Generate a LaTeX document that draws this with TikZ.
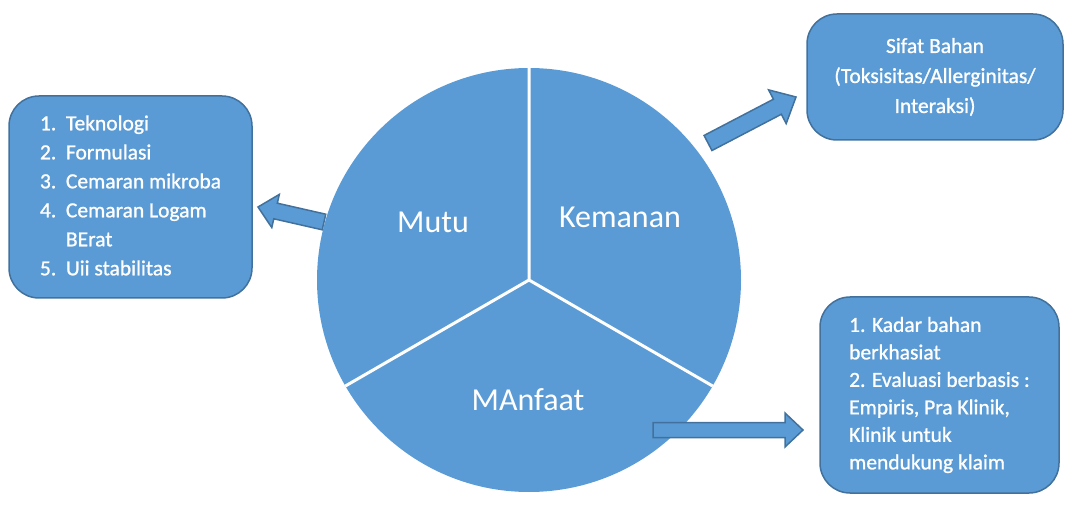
\documentclass[tikz,border=0pt]{standalone}
\usepackage{fontspec}
\setmainfont{Carlito}
\newfontfamily\boxfont[FakeBold=1]{Carlito}
\usetikzlibrary{calc}
\definecolor{fillblue}{HTML}{5B9BD5}
\definecolor{edgeblue}{HTML}{41719C}
\newcommand{\blockarr}[5]{%
  \coordinate (#1-base) at ($(#2)!#5!(#1)$);
  \draw[blockarrow] ($(#1)!#3!90:(#2)$) -- ($(#1-base)!#3!90:(#2)$) -- ($(#1-base)!#4!90:(#2)$) -- (#2) -- ($(#1-base)!#4!-90:(#2)$) -- ($(#1-base)!#3!-90:(#2)$) -- ($(#1)!#3!-90:(#2)$) -- cycle;
}
\begin{document}
\begin{tikzpicture}[x=1pt,y=-1pt,
  box/.style={draw=edgeblue, line width=1.5pt, fill=fillblue, rounded corners=30pt, text=white, inner sep=0pt},
  lbl/.style={text=white, font=\fontsize{32}{38}\selectfont},
  blockarrow/.style={draw=edgeblue, line width=1.5pt, fill=fillblue, line join=miter}]
\useasboundingbox (0,0) rectangle (1072,505);
% pie
\node[circle, fill=fillblue, minimum size=424pt, inner sep=0pt] (pie) at (529,280) {};
\draw[white, line width=3pt] (pie.center) -- (pie.north) (pie.center) -- (pie.210) (pie.center) -- (pie.330);
\node[lbl] (mutu) at (433,222) {Mutu};
\node[lbl] (keman) at (620,217) {Kemanan};
\node[lbl] (manf) at (528,400) {MAnfaat};
% boxes
\node[box, minimum width=243pt, minimum height=202pt, font=\boxfont\fontsize{21.5}{29}\selectfont] (mutubox) at (130.5,197)
 {\begin{tabular}{@{}p{26pt}@{}l@{}}
 1. & Teknologi\\
 2. & Formulasi\\
 3. & Cemaran mikroba\\
 4. & Cemaran Logam\\
    & BErat\\
 5. & Uii stabilitas
 \end{tabular}};
\node[box, minimum width=256pt, minimum height=126pt, align=center, font=\boxfont\fontsize{21.5}{30}\selectfont] (kembox) at (935,77)
 {Sifat Bahan\\(Toksisitas/Allerginitas/\\Interaksi)};
\node[box, minimum width=239pt, minimum height=196pt, align=left, font=\boxfont\fontsize{21.5}{27.5}\selectfont] (manbox) at (939.5,395)
 {1. Kadar bahan\\berkhasiat\\2. Evaluasi berbasis :\\Empiris, Pra Klinik,\\Klinik untuk\\mendukung klaim};
% arrows
\coordinate (a1t) at (324,222);
\coordinate (a1h) at (258,207);
\blockarr{a1t}{a1h}{8pt}{17pt}{18pt}
\coordinate (a2t) at (708,143);
\coordinate (a2h) at (796,97);
\blockarr{a2t}{a2h}{8.5pt}{19pt}{21pt}
\coordinate (a3t) at (653,430);
\coordinate (a3h) at (803,430);
\blockarr{a3t}{a3h}{7.5pt}{17pt}{18pt}
\end{tikzpicture}
\end{document}
